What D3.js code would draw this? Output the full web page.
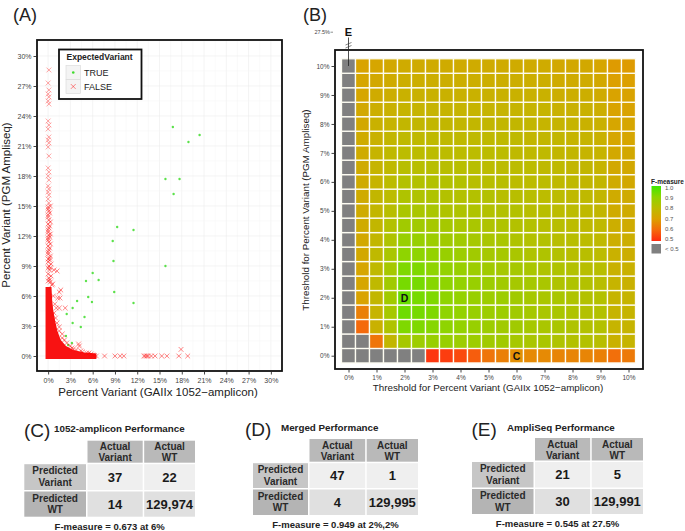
<!DOCTYPE html>
<html>
<head>
<meta charset="utf-8">
<script src="https://cdn.jsdelivr.net/npm/d3@7"></script>
<style>
body { margin: 0; background: #fff; }
svg { display: block; font-family: "Liberation Sans", Arial, Helvetica, sans-serif; }
</style>
</head>
<body>
<div id="fig"></div>
<script>
// ---- data: panel A (percent variant, GAIIx vs PGM) ----
var truePts = [
	[16.8,22.9],[20.4,22.1],[18.9,21.4],[15.8,17.7],[17.7,17.7],[16.9,16.2],
	[9.3,12.9],[11.5,12.6],[8.7,11.5],[8.8,9.5],[15.8,9.0],[6.0,8.3],[6.8,7.6],
	[5.1,7.5],[8.9,6.4],[5.4,5.9],[3.9,5.5],[5.9,5.4],[11.5,5.3],[3.3,4.8],
	[2.5,4.2],[4.9,3.9],[3.3,3.3],[4.4,2.9],[2.4,2.0],[3.2,1.3],[2.7,1.1]
];
var falsePts = [
	[0.1,28.6],[0.0,27.3],[0.1,26.6],[0.0,26.2],[0.1,25.9],[0.0,25.5],[0.1,25.2],
	[0.0,23.5],[0.1,23.1],[0.0,22.7],[0.1,21.9],[0.0,21.6],[0.1,21.3],[0.0,20.9],
	[0.1,20.0],[0.0,18.8],[0.1,18.4],[0.0,18.0],[0.1,17.6],[0.0,17.0],[0.1,16.7],
	[0.0,16.4],[0.1,16.1],[0.0,15.7],[0.1,15.3],[0.0,14.9],[0.1,14.5],[0.0,14.1],
	[0.1,13.6],[0.0,13.2],[0.1,12.8],[0.0,12.4],[0.1,12.1],[0.0,11.8],[0.1,11.4],
	[0.0,11.0],[0.1,10.6],[0.0,10.2],[0.2,9.8],[0.0,9.4],[0.1,9.0],[0.2,8.6],
	[0.0,8.2],[0.1,7.8],[0.3,7.4],[0.5,7.1],
	[0.3,15.0],[0.2,14.3],[0.3,13.4],[0.2,13.0],[0.3,12.2],[0.2,11.9],[0.3,11.2],
	[0.2,10.8],[0.3,10.0],[0.2,9.6],[0.4,9.2],[0.3,8.8],[0.4,8.0],[0.2,7.6],
	[0.0,14.7],[0.0,13.9],[0.0,12.6],[0.0,11.6],[0.0,10.4],[0.0,9.7],[0.0,8.8],[0.0,7.5],
	[0.8,8.6],[1.2,8.5],[1.7,6.6],[1.5,6.4],[1.6,5.8],[1.3,5.8],[1.1,4.8],[1.5,4.8],
	[2.3,4.8],[0.8,4.3],[1.5,2.9],[1.5,2.5],[1.9,2.2],[2.5,1.3],[2.2,1.6],[4.1,1.2],
	[4.2,1.0],[3.0,1.0],[3.4,0.7],[4.6,0.4],[5.5,0.3],[6.0,0.1],[6.5,0.0],[7.6,0.0],
	[9.0,0.0],[9.7,0.0],[10.2,0.0],[12.9,0.0],[13.1,0.0],[13.3,0.0],[13.5,0.0],
	[13.9,0.0],[14.4,0.0],[15.3,0.0],[16.0,0.0],[17.6,0.0],[18.8,0.0],[17.9,0.66],
	[1.0,3.8],[1.2,3.3],[0.9,5.2],[0.7,6.0],[0.6,7.2],[1.9,1.8],[3.2,0.8],[3.8,0.6],
	[4.4,0.5],[5.2,0.3],[5.8,0.2],[6.2,0.05]
];
// outline of the saturated (overplotted) red mass near the origin
var falseDense = [
	[-0.35,-0.3],[-0.35,6.9],[0.45,6.9],[0.55,5.5],[0.7,4.5],[0.95,3.5],[1.25,2.5],
	[1.7,1.6],[2.4,1.0],[3.4,0.6],[4.9,0.35],[6.5,0.25],[6.5,-0.3]
];
var ticksA = [0,3,6,9,12,15,18,21,24,27,30];

// ---- data: panel B (F-measure by threshold pair) ----
var thresholds = [0,0.5,1,1.5,2,2.5,3,3.5,4,4.5,5,5.5,6,6.5,7,7.5,8,8.5,9,9.5,10];
// rows: PGM threshold 0% .. 10%; columns: GAIIx threshold 0% .. 10%; null = below 0.5
var fMeasure = [
	[null,null,null,null,null,null,0.52,0.53,0.55,0.58,0.62,0.64,0.67,0.66,0.66,0.65,0.65,0.65,0.64,0.61,0.63],
	[null,null,0.62,0.78,0.85,0.87,0.88,0.88,0.87,0.87,0.86,0.86,0.85,0.84,0.84,0.83,0.82,0.82,0.81,0.76,0.77],
	[null,0.6,0.76,0.83,0.92,0.92,0.91,0.9,0.89,0.88,0.87,0.86,0.86,0.85,0.84,0.84,0.83,0.82,0.82,0.77,0.77],
	[null,0.64,0.77,0.85,0.94,0.93,0.92,0.9,0.89,0.88,0.87,0.87,0.86,0.85,0.84,0.84,0.83,0.82,0.82,0.77,0.77],
	[null,0.71,0.78,0.86,0.949,0.93,0.92,0.9,0.89,0.88,0.87,0.87,0.86,0.85,0.84,0.84,0.83,0.82,0.82,0.77,0.77],
	[null,0.72,0.79,0.86,0.93,0.93,0.91,0.9,0.89,0.88,0.87,0.86,0.85,0.85,0.84,0.83,0.83,0.82,0.81,0.77,0.76],
	[null,0.72,0.79,0.85,0.92,0.92,0.9,0.89,0.88,0.87,0.86,0.85,0.85,0.84,0.83,0.83,0.82,0.81,0.81,0.76,0.76],
	[null,0.73,0.79,0.84,0.9,0.9,0.89,0.88,0.87,0.86,0.85,0.85,0.84,0.83,0.83,0.82,0.81,0.81,0.8,0.76,0.75],
	[null,0.73,0.78,0.83,0.88,0.88,0.87,0.86,0.86,0.85,0.84,0.84,0.83,0.82,0.82,0.81,0.81,0.8,0.79,0.75,0.75],
	[null,0.74,0.78,0.82,0.86,0.86,0.85,0.85,0.84,0.84,0.83,0.83,0.82,0.82,0.81,0.81,0.8,0.79,0.79,0.75,0.74],
	[null,0.74,0.78,0.81,0.84,0.84,0.84,0.83,0.83,0.83,0.82,0.82,0.82,0.81,0.81,0.8,0.8,0.79,0.78,0.74,0.74],
	[null,0.74,0.78,0.8,0.83,0.83,0.83,0.82,0.82,0.82,0.82,0.81,0.81,0.81,0.8,0.8,0.79,0.79,0.78,0.74,0.74],
	[null,0.74,0.77,0.8,0.82,0.82,0.82,0.82,0.82,0.81,0.81,0.81,0.8,0.8,0.8,0.79,0.79,0.78,0.78,0.74,0.73],
	[null,0.74,0.77,0.79,0.81,0.81,0.81,0.81,0.81,0.81,0.8,0.8,0.8,0.8,0.79,0.79,0.78,0.78,0.77,0.73,0.73],
	[null,0.74,0.77,0.79,0.8,0.8,0.8,0.8,0.8,0.8,0.8,0.8,0.79,0.79,0.79,0.78,0.78,0.77,0.77,0.73,0.73],
	[null,0.74,0.76,0.78,0.79,0.79,0.79,0.79,0.79,0.79,0.79,0.79,0.79,0.78,0.78,0.78,0.77,0.77,0.76,0.72,0.72],
	[null,0.73,0.76,0.77,0.78,0.78,0.78,0.78,0.78,0.78,0.78,0.78,0.78,0.78,0.77,0.77,0.77,0.76,0.76,0.72,0.72],
	[null,0.73,0.75,0.76,0.77,0.77,0.77,0.77,0.77,0.77,0.77,0.77,0.77,0.77,0.77,0.76,0.76,0.76,0.75,0.71,0.71],
	[null,0.72,0.74,0.75,0.76,0.76,0.76,0.76,0.76,0.76,0.76,0.76,0.76,0.76,0.76,0.75,0.75,0.75,0.74,0.71,0.71],
	[null,0.72,0.73,0.74,0.75,0.75,0.75,0.75,0.75,0.75,0.75,0.75,0.75,0.75,0.75,0.74,0.74,0.74,0.73,0.7,0.7],
	[null,0.71,0.72,0.73,0.74,0.74,0.74,0.74,0.74,0.74,0.74,0.74,0.74,0.74,0.74,0.73,0.73,0.73,0.72,0.69,0.69]
];
var ticksB = [0,1,2,3,4,5,6,7,8,9,10];
var legendB = [1.0,0.9,0.8,0.7,0.6,0.5];
var marksB = [{label:"D", x:2, y:2}, {label:"C", x:6, y:0}];

// ---- data: confusion tables ----
var tableTitles = ["1052-amplicon Performance", "Merged Performance", "AmpliSeq Performance"];
var tableLetters = ["(C)", "(D)", "(E)"];
var tableValues = [[37, 22, 14, 129974], [47, 1, 4, 129995], [21, 5, 30, 129991]];
var tableFmeasure = ["F-measure = 0.673 at 6%", "F-measure = 0.949 at 2%,2%", "F-measure = 0.545 at 27.5%"];

var svg = d3.select("#fig").append("svg").attr("width", 685).attr("height", 531);

function pct(d){ return d + "%"; }

function panelA(){
	var x = d3.scaleLinear().domain([-1.5, 31.5]).range([37, 282]);
	var y = d3.scaleLinear().domain([-1.5, 31.6]).range([371, 40]);
	var g = svg.append("g");

	// grid
	var minor = d3.range(-1.5, 31.6, 1.5);
	g.selectAll(".gx").data(minor).enter().append("line")
		.attr("x1", d => x(d)).attr("x2", d => x(d)).attr("y1", 40).attr("y2", 371)
		.attr("stroke", d => (d % 3 === 0) ? "#ececec" : "#f6f6f6").attr("stroke-width", 0.6);
	g.selectAll(".gy").data(minor).enter().append("line")
		.attr("y1", d => y(d)).attr("y2", d => y(d)).attr("x1", 37).attr("x2", 282)
		.attr("stroke", d => (d % 3 === 0) ? "#ececec" : "#f6f6f6").attr("stroke-width", 0.6);

	// TRUE points (drawn first, the red mass covers the ones near the origin)
	g.selectAll(".tp").data(truePts).enter().append("circle")
		.attr("cx", d => x(d[0])).attr("cy", d => y(d[1])).attr("r", 1.2)
		.attr("fill", "#3fdc2c").attr("fill-opacity", 0.85);

	// dense red mass
	g.append("path").datum(falseDense)
		.attr("d", d3.line().x(d => x(d[0])).y(d => y(d[1])).curve(d3.curveLinear))
		.attr("fill", "#f81212");

	// FALSE points (x markers)
	g.selectAll(".fp").data(falsePts).enter().append("path")
		.attr("transform", d => "translate(" + x(d[0]) + "," + y(d[1]) + ")")
		.attr("d", "M-2.4,-2.4L2.4,2.4M-2.4,2.4L2.4,-2.4")
		.attr("stroke", "#ff0000").attr("stroke-opacity", d => d[1] > 15 ? 0.45 : 0.6)
		.attr("stroke-width", 0.8).attr("fill", "none");

	// border
	g.append("rect").attr("x", 37).attr("y", 40).attr("width", 245).attr("height", 331)
		.attr("fill", "none").attr("stroke", "#111").attr("stroke-width", 1.8);

	// axes
	var ax = g.append("g").attr("transform", "translate(0,372)")
		.call(d3.axisBottom(x).tickValues(ticksA).tickFormat(pct).tickSize(2.5).tickPadding(4).tickSizeOuter(0));
	var ay = g.append("g").attr("transform", "translate(36,0)")
		.call(d3.axisLeft(y).tickValues(ticksA).tickFormat(pct).tickSize(2.5).tickPadding(2).tickSizeOuter(0));
	[ax, ay].forEach(function(a){
		a.select(".domain").remove();
		a.selectAll("line").attr("stroke", "#444");
		a.selectAll("text").attr("font-size", 7).attr("fill", "#444").attr("font-family", null);
	});

	g.append("text").attr("x", 158).attr("y", 396).attr("text-anchor", "middle")
		.attr("font-size", 11.5).attr("fill", "#222").text("Percent Variant (GAIIx 1052\u2212amplicon)");
	g.append("text").attr("transform", "translate(10,205) rotate(-90)").attr("text-anchor", "middle")
		.attr("font-size", 11.5).attr("fill", "#222").text("Percent Variant (PGM Ampliseq)");
	svg.append("text").attr("x", 13).attr("y", 21).attr("font-size", 18).attr("fill", "#222").text("(A)");

	// legend
	var lg = g.append("g");
	lg.append("rect").attr("x", 59).attr("y", 49.5).attr("width", 82.5).attr("height", 49.5)
		.attr("fill", "#fff").attr("stroke", "#111").attr("stroke-width", 1.8);
	lg.append("text").attr("x", 66.5).attr("y", 59.5).attr("font-size", 8.5).attr("font-weight", "bold")
		.attr("fill", "#222").text("ExpectedVariant");
	["TRUE", "FALSE"].forEach(function(lab, i){
		var ky = 65.5 + i * 14;
		lg.append("rect").attr("x", 66).attr("y", ky).attr("width", 14.5).attr("height", 14)
			.attr("fill", "#f4f4f4").attr("stroke", "#d8d8d8").attr("stroke-width", 0.6);
		if(i === 0)
			lg.append("circle").attr("cx", 73.25).attr("cy", ky + 7).attr("r", 1.3).attr("fill", "#3fdc2c");
		else
			lg.append("path").attr("transform", "translate(73.25," + (ky + 7) + ")")
				.attr("d", "M-2.4,-2.4L2.4,2.4M-2.4,2.4L2.4,-2.4")
				.attr("stroke", "#ff0000").attr("stroke-opacity", 0.6).attr("stroke-width", 0.8);
		lg.append("text").attr("x", 84).attr("y", ky + 10.5).attr("font-size", 9).attr("fill", "#222").text(lab);
	});
}

function panelB(){
	var x = d3.scaleLinear().domain([0, 10]).range([348.5, 628.5]);
	var y = d3.scaleLinear().domain([0, 10]).range([355.7, 66]);
	var tw = x(0.5) - x(0), th = y(0) - y(0.5);
	var color = d3.scaleLinear().domain([0.5, 0.6, 0.7, 0.8, 0.9, 1.0])
		.range(["#ff2a10", "#f46a0c", "#dca000", "#bcbc00", "#8fd400", "#3ee800"]);
	var g = svg.append("g");

	g.append("rect").attr("x", 335).attr("y", 50).attr("width", 308).attr("height", 319).attr("fill", "#fff");

	// tiles
	var cells = [];
	fMeasure.forEach(function(row, ri){
		row.forEach(function(v, ci){ cells.push({x: thresholds[ci], y: thresholds[ri], f: v}); });
	});
	g.selectAll(".tile").data(cells).enter().append("rect")
		.attr("x", d => x(d.x) - tw / 2).attr("y", d => y(d.y) - th / 2)
		.attr("width", tw).attr("height", th)
		.attr("fill", d => d.f === null ? "#808080" : color(d.f))
		.attr("stroke", "#fdfcf2").attr("stroke-width", 1.3);

	// D and C labels
	g.selectAll(".mk").data(marksB).enter().append("text")
		.attr("x", d => x(d.x)).attr("y", d => y(d.y) + 3.8).attr("text-anchor", "middle")
		.attr("font-size", 10.5).attr("font-weight", "bold").attr("fill", "#111").text(d => d.label);

	// border
	g.append("rect").attr("x", 335).attr("y", 50).attr("width", 308).attr("height", 319)
		.attr("fill", "none").attr("stroke", "#111").attr("stroke-width", 1.8);

	// axes
	var ax = g.append("g").attr("transform", "translate(0,370)")
		.call(d3.axisBottom(x).tickValues(ticksB).tickFormat(pct).tickSize(2.5).tickPadding(2.5).tickSizeOuter(0));
	var ay = g.append("g").attr("transform", "translate(334,0)")
		.call(d3.axisLeft(y).tickValues(ticksB).tickFormat(pct).tickSize(2.5).tickPadding(2).tickSizeOuter(0));
	[ax, ay].forEach(function(a){
		a.select(".domain").remove();
		a.selectAll("line").attr("stroke", "#444");
		a.selectAll("text").attr("font-size", 6.5).attr("fill", "#444").attr("font-family", null);
	});

	g.append("text").attr("x", 488).attr("y", 390.5).attr("text-anchor", "middle")
		.attr("font-size", 9.8).attr("fill", "#222").text("Threshold for Percent Variant (GAIIx 1052\u2212amplicon)");
	g.append("text").attr("transform", "translate(309,210) rotate(-90)").attr("text-anchor", "middle")
		.attr("font-size", 9.8).attr("fill", "#222").text("Threshold for Percent Variant (PGM Ampliseq)");
	svg.append("text").attr("x", 303).attr("y", 21).attr("font-size", 18).attr("fill", "#222").text("(B)");

	// E marker at 27.5% (axis break)
	g.append("text").attr("x", 330).attr("y", 34).attr("text-anchor", "end")
		.attr("font-size", 5.5).attr("fill", "#444").text("27.5%");
	g.append("line").attr("x1", 330.5).attr("x2", 333).attr("y1", 32.2).attr("y2", 32.2).attr("stroke", "#444").attr("stroke-width", 0.6);
	g.append("text").attr("x", x(0)).attr("y", 35.5).attr("text-anchor", "middle")
		.attr("font-size", 11).attr("font-weight", "bold").attr("fill", "#111").text("E");
	g.append("line").attr("x1", x(0)).attr("x2", x(0)).attr("y1", 37.5).attr("y2", y(10))
		.attr("stroke", "#222").attr("stroke-width", 0.8);
	[0, 3].forEach(function(o){
		g.append("line").attr("x1", x(0) - 3).attr("x2", x(0) + 3).attr("y1", 45 + o).attr("y2", 42.5 + o)
			.attr("stroke", "#333").attr("stroke-width", 0.6);
	});

	// legend
	var lg = svg.append("g");
	var ly = d3.scaleLinear().domain([1.0, 0.5]).range([187.3, 239]);
	var grad = svg.append("defs").append("linearGradient").attr("id", "fgrad")
		.attr("x1", 0).attr("y1", 0).attr("x2", 0).attr("y2", 1);
	legendB.forEach(function(v, i){
		grad.append("stop").attr("offset", i / (legendB.length - 1)).attr("stop-color", color(v));
	});
	lg.append("text").attr("x", 651).attr("y", 183.5).attr("font-size", 6.5).attr("font-weight", "bold")
		.attr("fill", "#222").text("F-measure");
	lg.append("rect").attr("x", 651.5).attr("y", 186).attr("width", 9.5).attr("height", 55).attr("fill", "url(#fgrad)");
	lg.selectAll(".lt").data(legendB).enter().append("text")
		.attr("x", 665).attr("y", d => ly(d) + 2.2).attr("font-size", 6).attr("fill", "#555")
		.text(d => d.toFixed(1));
	lg.append("rect").attr("x", 651.5).attr("y", 244).attr("width", 9.5).attr("height", 9.5).attr("fill", "#808080");
	lg.append("text").attr("x", 665).attr("y", 251).attr("font-size", 6).attr("fill", "#555").text("< 0.5");
}

function drawTable(i, cols, rows, letterX, titleX, baseY){
	var g = svg.append("g");
	var vals = tableValues[i];
	var gap = 1.5;
	var cx = [cols[0], cols[1] + gap, cols[2] + gap];
	var cw = [cols[1] - cols[0], cols[2] - cols[1] - gap, cols[3] - cols[2] - gap];
	var ry = [rows[0], rows[1] + gap, rows[2] + gap];
	var rh = [rows[1] - rows[0], rows[2] - rows[1] - gap, rows[3] - rows[2] - gap];

	g.append("text").attr("x", letterX).attr("y", baseY + 5).attr("font-size", 19).attr("fill", "#222").text(tableLetters[i]);
	g.append("text").attr("x", titleX).attr("y", baseY).attr("font-size", 9.8).attr("font-weight", "bold")
		.attr("fill", "#222").text(tableTitles[i]);

	// header cells
	[["Actual", "Variant"], ["Actual", "WT"]].forEach(function(lines, c){
		g.append("rect").attr("x", cx[c + 1]).attr("y", ry[0]).attr("width", cw[c + 1]).attr("height", rh[0]).attr("fill", "#b9b9b9");
		lines.forEach(function(t, k){
			g.append("text").attr("x", cx[c + 1] + cw[c + 1] / 2).attr("y", ry[0] + 9.5 + k * 11)
				.attr("text-anchor", "middle").attr("font-size", 10).attr("font-weight", "bold").attr("fill", "#2a2a2a").text(t);
		});
	});
	// row labels
	[["Predicted", "Variant"], ["Predicted", "WT"]].forEach(function(lines, r){
		g.append("rect").attr("x", cx[0]).attr("y", ry[r + 1]).attr("width", cw[0]).attr("height", rh[r + 1])
			.attr("fill", r === 0 ? "#c6c6c6" : "#b4b4b4");
		lines.forEach(function(t, k){
			g.append("text").attr("x", cx[0] + cw[0] / 2).attr("y", ry[r + 1] + 10 + k * 11.5)
				.attr("text-anchor", "middle").attr("font-size", 10).attr("font-weight", "bold").attr("fill", "#2a2a2a").text(t);
		});
	});
	// values
	var fmt = d3.format(",");
	vals.forEach(function(v, k){
		var r = Math.floor(k / 2), c = k % 2;
		g.append("rect").attr("x", cx[c + 1]).attr("y", ry[r + 1]).attr("width", cw[c + 1]).attr("height", rh[r + 1])
			.attr("fill", r === 0 ? "#efefef" : "#e0e0e0");
		g.append("text").attr("x", cx[c + 1] + cw[c + 1] / 2).attr("y", ry[r + 1] + rh[r + 1] / 2 + 4.5)
			.attr("text-anchor", "middle").attr("font-size", 13).attr("font-weight", "bold").attr("fill", "#1a1a1a").text(fmt(v));
	});
	g.append("text").attr("x", (cols[0] + cols[3]) / 2).attr("y", rows[3] + 13)
		.attr("text-anchor", "middle").attr("font-size", 9.5).attr("font-weight", "bold").attr("fill", "#222").text(tableFmeasure[i]);
}

panelA();
panelB();
drawTable(0, [24.3, 86, 142.7, 195], [440.7, 462.7, 490, 516.7], 24, 54, 432);
drawTable(1, [253, 308, 365.2, 418], [439, 461.7, 488, 515], 245, 281, 431);
drawTable(2, [472, 533.5, 590.2, 643], [438, 460.5, 487.5, 514], 471.5, 507, 431);
</script>
</body>
</html>
